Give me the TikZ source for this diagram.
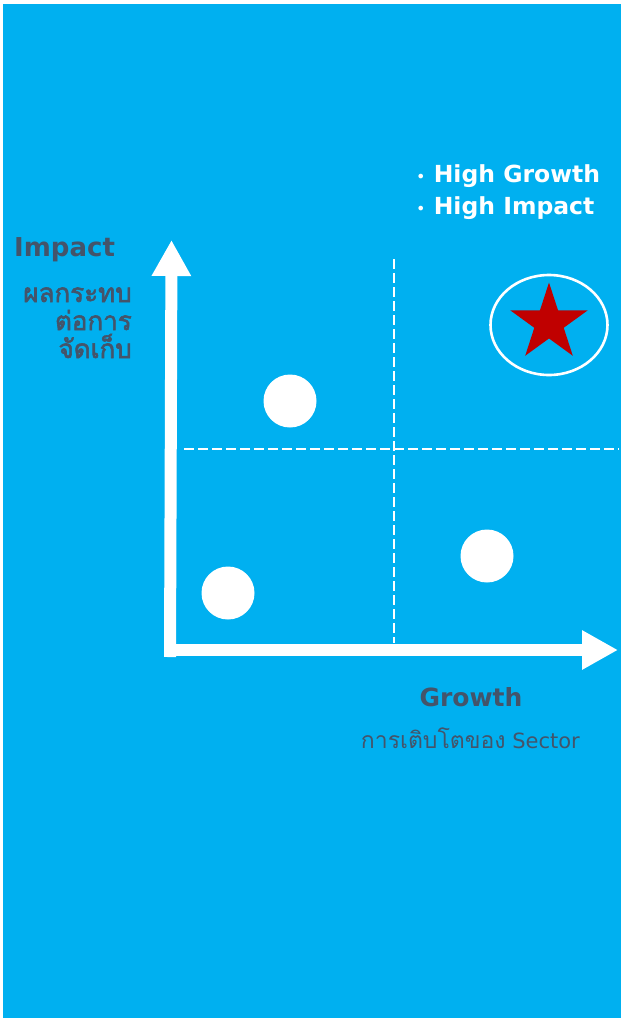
\documentclass[tikz,border=0pt]{standalone}
\usepackage{fontspec}
\setmainfont{DejaVu Sans}
\newfontfamily\thaifont[Script=Thai]{Loma}
\newfontfamily\thaibold[Script=Thai,FakeBold=2.2]{Loma}
\usetikzlibrary{arrows.meta,shapes.geometric}
\definecolor{bgblue}{HTML}{00B0F0}
\definecolor{txtgray}{HTML}{44546A}
\definecolor{starred}{HTML}{C00000}
\tikzset{
  axis/.style={draw=white,line width=12pt},
  axistip/.style={-{Triangle[length=36pt,width=37pt]}},
  guide/.style={draw=white,line width=1.1pt,dash pattern=on 10pt off 4pt},
  dot/.style={circle,fill=white,minimum size=53pt,inner sep=0pt},
  lab/.style={text=txtgray,inner sep=0pt},
}
\begin{document}
\begin{tikzpicture}[x=1pt,y=-1pt]
\useasboundingbox (0,0) rectangle (621,1018);
\fill[white] (0,0) rectangle (621,1018);
\fill[bgblue] (3,4) rectangle (621,1018);
% guides
\coordinate (vtop) at (394,259);
\coordinate (vbot) at (394,643);
\coordinate (hl) at (184,449);
\coordinate (hr) at (619,449);
\draw[guide] (vtop) -- (vbot);
\draw[guide] (hl) -- (hr);
% axes
\coordinate (corner) at (170,657);
\coordinate (ytip) at (171.5,240);
\coordinate (xstart) at (170,650);
\coordinate (xtip) at (618,650);
\draw[axis,axistip] (corner) -- (ytip);
\draw[axis,axistip] (xstart) -- (xtip);
% dots
\node[dot] (d1) at (290,401) {};
\node[dot] (d2) at (228,593) {};
\node[dot] (d3) at (487,556) {};
% star
\node[draw=white,line width=2.6pt,ellipse,minimum width=117pt,minimum height=100pt,inner sep=0pt] (ring) at (549,325) {};
\node[star,star points=5,star point ratio=2.618,fill=starred,minimum size=81pt,inner sep=0pt] (st) at (549,323) {};
% labels
\node[lab,anchor=base west,font=\bfseries\fontsize{26}{30}\selectfont] (impact) at (14,256) {Impact};
\node[lab,anchor=base east,align=right,font=\thaibold\fontsize{26}{28}\selectfont] (impth) at (132,358) {ผลกระทบ\\ต่อการ\\จัดเก็บ};
\node[text=white,anchor=base west,align=left,inner sep=0pt,font=\bfseries\fontsize{23.5}{32}\selectfont] (hg) at (416,214) {{\mdseries\fontsize{16}{32}\selectfont•} High Growth\\{\mdseries\fontsize{16}{32}\selectfont•} High Impact};
\node[lab,anchor=base,font=\bfseries\fontsize{25}{30}\selectfont] (growth) at (471,706) {Growth};
\node[lab,anchor=base east,font=\fontsize{21}{24}\selectfont] (gth) at (580,748) {{\thaifont\fontsize{23}{24}\selectfont การเติบโตของ} Sector};
\end{tikzpicture}
\end{document}
